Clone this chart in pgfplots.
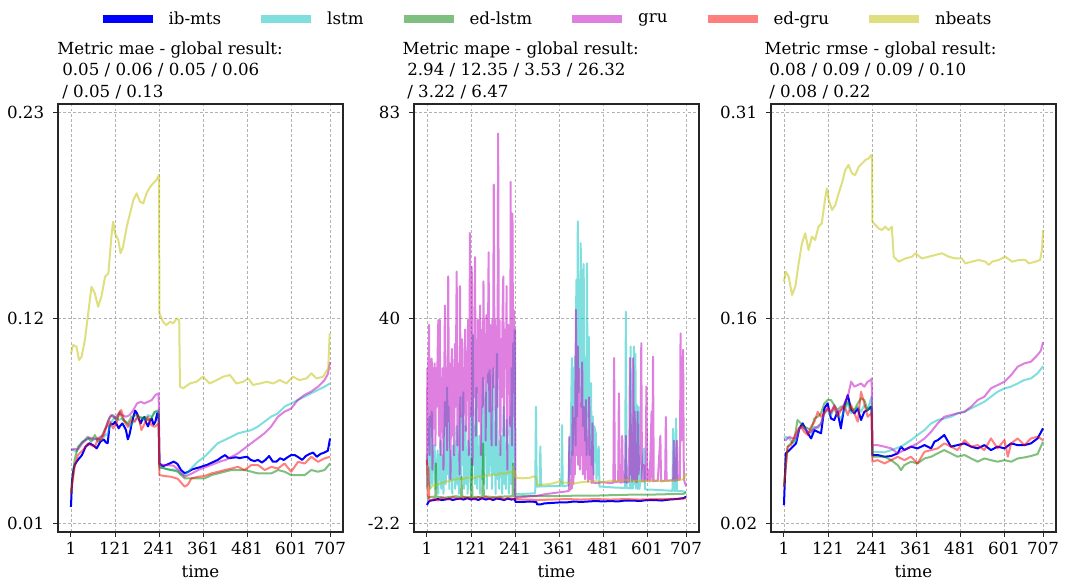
\documentclass[border=0pt]{standalone}
\usepackage{fontspec}
\setmainfont{DejaVu Serif}
\usepackage{pgfplots}
\pgfplotsset{compat=1.18}

\definecolor{mc}{rgb}{0,0.75,0.75}
\definecolor{mg}{rgb}{0,0.5,0}
\definecolor{mm}{rgb}{0.75,0,0.75}
\definecolor{mr}{rgb}{1,0,0}
\definecolor{my}{rgb}{0.75,0.75,0}
\newcommand\fnt{\fontsize{12.5pt}{15pt}\selectfont}

\pgfplotsset{
  panel/.style={
    scale only axis, width=213.75pt, height=321pt,
    xmin=-34.3, xmax=742.3,
    xtick={1,121,241,361,481,601,707},
    xticklabels={1,121,241,361,481,601,707},
    xlabel={time},
    xlabel style={at={(axis description cs:0.5,0)}, anchor=base, yshift=-33.75pt, inner sep=0pt},
    grid=major,
    major grid style={black!30, line width=0.5pt, dash pattern=on 2.2pt off 1.6pt},
    axis line style={black!85, line width=0.9pt},
    tick align=outside, tick pos=left,
    major tick length=3.6pt,
    tick style={black!85, line width=0.7pt},
    xticklabel style={anchor=base, inner sep=0pt, yshift=-12.9pt},
    yticklabel style={anchor=east, inner sep=0pt, xshift=-6.6pt},
    tick label style={font=\fnt},
    label style={font=\fnt},
    every axis plot/.append style={line width=1.5pt, line join=round, mark=none},
  },
  sib/.style={color=blue},
  sls/.style={color=mc, draw opacity=0.5},
  sel/.style={color=mg, draw opacity=0.5},
  sgr/.style={color=mm, draw opacity=0.5},
  seg/.style={color=mr, draw opacity=0.5},
  snb/.style={color=my, draw opacity=0.5},
}

\begin{document}
\begin{tikzpicture}[font=\fnt]
\useasboundingbox (0,0) rectangle (804pt,-435.75pt);

% ---------- mae ----------
\begin{axis}[panel, at={(43.5pt,-399pt)}, anchor=south west,
  ymin=0.00556, ymax=0.23444,
  ytick={0.01,0.12,0.23}, yticklabels={0.01,0.12,0.23},
  legend style={at={(1.7088,1.1986)}, anchor=center, draw=none, fill=none,
    font=\fnt, legend columns=6, inner sep=0pt, outer sep=0pt,
    nodes={inner sep=0pt},
    /tikz/every odd column/.append style={column sep=9pt},
    /tikz/every even column/.append style={column sep=27pt}},
  legend image code/.code={\draw[#1, line width=6pt] (0pt,0pt) -- (37.5pt,0pt);},
]
\addplot[sib] coordinates {(1,0.019)(4,0.033)(8,0.039)(11,0.0414)(16,0.043)(21,0.0444)(26,0.0455)(31,0.0467)(36,0.049)(41,0.0512)(46,0.052)(51,0.053)(56,0.0525)(61,0.052)(66,0.0512)(71,0.0503)(76,0.052)(81,0.0538)(86,0.0545)(91,0.055)(96,0.0535)(101,0.053)(106,0.062)(111,0.0636)(116,0.063)(121,0.0645)(126,0.063)(131,0.061)(136,0.0625)(141,0.0636)(146,0.062)(151,0.060)(156,0.0551)(161,0.058)(166,0.063)(171,0.067)(176,0.0705)(181,0.069)(186,0.066)(191,0.0636)(196,0.066)(201,0.067)(206,0.064)(211,0.062)(216,0.065)(221,0.0663)(226,0.063)(231,0.0645)(236,0.069)(240,0.068)(242,0.0423)(251,0.0408)(261,0.0414)(271,0.0423)(281,0.0432)(291,0.042)(301,0.0387)(311,0.037)(321,0.0378)(331,0.039)(341,0.0396)(351,0.0401)(361,0.0408)(371,0.0414)(381,0.0423)(391,0.0432)(401,0.0441)(411,0.0455)(421,0.0467)(431,0.045)(441,0.0453)(451,0.0455)(461,0.0451)(471,0.0455)(481,0.0458)(491,0.0441)(501,0.0435)(511,0.0441)(521,0.0427)(531,0.0441)(541,0.0462)(551,0.0432)(561,0.0432)(571,0.045)(581,0.0441)(591,0.0455)(601,0.0467)(611,0.0467)(621,0.0455)(631,0.0441)(641,0.0462)(651,0.0473)(661,0.048)(671,0.0458)(681,0.0473)(691,0.048)(701,0.049)(707,0.0556)};
\addlegendentry{ib-mts}
\addplot[sls] coordinates {(1,0.0494)(6,0.0496)(11,0.049)(16,0.0485)(21,0.0503)(31,0.0538)(41,0.0547)(51,0.0556)(61,0.0547)(71,0.0556)(81,0.0547)(91,0.0565)(101,0.0583)(111,0.0645)(121,0.0672)(131,0.0654)(141,0.0663)(151,0.0645)(161,0.0618)(171,0.0645)(181,0.0663)(191,0.0672)(201,0.0654)(211,0.0681)(221,0.0672)(231,0.0699)(240,0.0708)(242,0.0396)(251,0.040)(261,0.0392)(271,0.0388)(281,0.039)(291,0.0385)(301,0.0365)(311,0.036)(321,0.0378)(331,0.0400)(347,0.0432)(365,0.0458)(383,0.0494)(401,0.053)(419,0.0547)(438,0.0565)(456,0.0583)(474,0.0592)(492,0.060)(510,0.0619)(528,0.0645)(546,0.0672)(565,0.069)(583,0.0726)(601,0.0743)(619,0.0761)(637,0.0779)(655,0.0797)(674,0.0815)(692,0.0833)(707,0.085)};
\addlegendentry{lstm}
\addplot[sel] coordinates {(1,0.0262)(11,0.044)(20,0.0511)(34,0.0538)(47,0.0565)(56,0.0538)(66,0.0574)(75,0.0538)(84,0.0565)(93,0.0601)(107,0.0672)(116,0.0681)(125,0.0654)(134,0.0699)(143,0.0654)(156,0.0636)(166,0.0672)(179,0.0681)(193,0.0663)(202,0.0672)(211,0.0654)(220,0.0663)(229,0.0699)(240,0.0699)(242,0.0404)(256,0.0395)(274,0.0387)(292,0.0378)(311,0.0342)(329,0.0342)(347,0.0342)(365,0.0342)(384,0.036)(402,0.0369)(420,0.0378)(438,0.0387)(456,0.0387)(474,0.0387)(493,0.0378)(511,0.0369)(529,0.0369)(547,0.0369)(565,0.0387)(583,0.0378)(601,0.036)(620,0.036)(638,0.036)(656,0.0387)(674,0.0378)(692,0.0387)(707,0.0422)};
\addlegendentry{ed-lstm}
\addplot[sgr] coordinates {(1,0.0494)(6,0.0497)(11,0.0501)(16,0.0497)(21,0.0499)(31,0.0529)(41,0.0547)(51,0.056)(61,0.0556)(71,0.0552)(81,0.0565)(91,0.0574)(101,0.0645)(111,0.0681)(121,0.0663)(131,0.069)(141,0.0681)(151,0.0672)(161,0.0681)(171,0.0708)(181,0.0743)(191,0.0752)(201,0.0743)(211,0.0752)(221,0.0761)(231,0.0788)(240,0.0797)(242,0.0414)(261,0.0414)(281,0.041)(301,0.0375)(311,0.0351)(331,0.0369)(351,0.039)(371,0.0405)(391,0.042)(411,0.0435)(421,0.044)(441,0.046)(456,0.0476)(474,0.0503)(492,0.053)(510,0.0556)(528,0.0583)(546,0.0618)(565,0.0672)(583,0.0699)(601,0.0716)(619,0.0761)(637,0.0788)(655,0.0806)(674,0.0832)(692,0.0868)(701,0.090)(707,0.0965)};
\addlegendentry{gru}
\addplot[seg] coordinates {(1,0.0262)(11,0.0404)(20,0.0467)(34,0.0494)(47,0.0529)(56,0.052)(66,0.0511)(75,0.0556)(84,0.0547)(93,0.0601)(107,0.0645)(116,0.0609)(125,0.0636)(134,0.0699)(138,0.0708)(147,0.0645)(156,0.0618)(166,0.0654)(175,0.0645)(184,0.0681)(193,0.0601)(202,0.0636)(211,0.0672)(220,0.0627)(229,0.0618)(240,0.0636)(242,0.036)(256,0.0355)(274,0.0351)(292,0.034)(311,0.0298)(320,0.031)(329,0.0342)(347,0.0351)(365,0.0355)(384,0.0369)(402,0.0378)(420,0.0387)(438,0.0395)(456,0.0404)(474,0.0387)(492,0.0413)(511,0.0413)(529,0.0387)(547,0.0404)(565,0.0395)(583,0.0422)(601,0.0378)(620,0.0431)(638,0.0422)(656,0.0458)(674,0.0431)(692,0.0449)(707,0.0458)};
\addlegendentry{ed-gru}
\addplot[snb] coordinates {(1,0.101)(7,0.1055)(16,0.1047)(23,0.0975)(30,0.0993)(39,0.1082)(48,0.1225)(57,0.1367)(66,0.1332)(75,0.126)(84,0.1314)(94,0.1421)(103,0.1439)(112,0.1653)(116,0.1715)(121,0.1653)(130,0.1617)(136,0.1546)(143,0.1581)(153,0.1688)(162,0.176)(171,0.1831)(180,0.1867)(189,0.1822)(198,0.1813)(207,0.1867)(216,0.1899)(225,0.192)(234,0.1938)(241,0.1965)(242,0.1225)(252,0.118)(261,0.1162)(271,0.118)(280,0.1171)(289,0.1198)(296,0.1189)(298,0.0833)(307,0.0824)(325,0.085)(343,0.0859)(361,0.0886)(379,0.085)(398,0.0868)(416,0.0886)(434,0.0895)(452,0.085)(470,0.0859)(484,0.0877)(497,0.0842)(516,0.085)(534,0.0859)(552,0.085)(570,0.0868)(588,0.085)(606,0.0886)(624,0.0868)(643,0.0877)(656,0.0904)(670,0.0877)(688,0.0886)(702,0.0931)(706,0.1118)};
\addlegendentry{nbeats}
\end{axis}

% ---------- mape ----------
\begin{axis}[panel, at={(310.5pt,-399pt)}, anchor=south west,
  ymin=-3.92, ymax=84.72,
  ytick={-2.2,40.4,83}, yticklabels={-2.2,40,83},
]
\addplot[sib] coordinates {(1,1.7)(6,2.4)(11,2.6)(21,2.7)(31,2.9)(41,2.7)(51,2.8)(61,3.0)(71,2.7)(81,2.9)(91,3.0)(101,2.8)(111,3.1)(121,2.8)(131,3.0)(141,2.7)(151,3.1)(161,2.8)(171,3.0)(181,2.7)(191,3.0)(201,2.9)(211,2.7)(221,3.0)(231,2.8)(241,2.9)(242,2.3)(261,2.3)(281,2.4)(299,2.3)(301,1.8)(311,1.8)(321,2.0)(341,2.1)(361,2.2)(381,2.2)(401,2.4)(421,2.3)(441,2.4)(461,2.5)(481,2.4)(501,2.5)(521,2.4)(541,2.6)(561,2.6)(581,2.5)(601,2.7)(621,2.7)(641,2.6)(661,2.8)(681,2.9)(701,3.1)(707,3.4)};
\addplot[sls] coordinates {(1,5)(2,12)(4,6)(6,14)(8,20)(10,5)(12,13)(14,21)(16,6)(18,12)(20,9)(22,14)(24,5)(26,11)(28,8)(30,13)(32,4)(34,12)(36,7)(38,15)(40,5)(42,12)(44,9)(46,4)(48,14)(50,23)(52,6)(54,12)(56,26)(58,8)(60,22)(62,5)(64,13)(66,8)(68,11)(70,4)(72,14)(74,7)(76,12)(78,5)(80,13)(82,18)(84,6)(86,12)(88,4)(90,14)(92,24)(94,7)(96,20)(98,10)(100,25)(102,5)(104,14)(106,18)(108,6)(110,13)(112,4)(114,15)(116,8)(118,12)(120,5)(122,22)(124,7)(126,36.9)(128,10)(130,18)(132,6)(134,14)(136,26)(138,5)(140,12)(142,8)(144,16)(146,4)(148,11)(150,7)(152,21)(154,28)(156,6)(158,20)(160,12)(162,25)(164,5)(166,14)(168,28.9)(170,8)(172,29.6)(174,10)(176,18)(178,5)(180,22)(182,30)(184,8)(186,18.6)(188,4)(190,24)(192,33)(194,7)(196,15)(198,5)(200,12)(202,8)(204,16)(206,4)(208,14)(210,22)(212,6)(214,12)(216,5)(218,19.3)(220,8)(222,14)(224,4)(226,12)(228,20)(230,6)(232,30)(234,10)(236,35.2)(238,14)(240,38)(241,5)(242,3.9)(270,4.0)(296,4.1)(298,22)(300,5.5)(308,5.5)(310,13.8)(312,5.5)(340,5.6)(366,5.6)(368,9)(369,18.2)(371,5.6)(386,5.7)(388,10)(389,15.5)(391,8)(394,22)(396,32.1)(398,12)(400,30)(402,18)(404,32.4)(406,14)(408,48.3)(410,20)(412,60.4)(414,25)(416,48.3)(418,30)(420,55.9)(422,22)(424,50.4)(426,18)(428,51.6)(430,28)(432,15)(434,32)(436,12)(437,51.7)(439,20)(442,36.5)(444,12)(446,24.8)(448,26.9)(450,10)(453,20)(455,8)(457,18)(461,16.5)(463,7)(469,13.8)(471,5.5)(490,5.4)(510,5.3)(541,5.2)(543,41.7)(545,5.2)(554,5.1)(556,34.5)(558,5.1)(563,5.1)(565,34.5)(567,6)(569,33)(571,5.1)(573,22.4)(575,5)(578,22)(580,5)(593,13.4)(595,4.9)(630,4.8)(650,4.7)(670,4.6)(672,17.5)(674,4.6)(678,4.6)(680,19.6)(682,4.6)(700,4.5)(707,4.3)};
\addplot[sel] coordinates {(1,3.0)(6,3.3)(20,3.4)(24,3.3)(25,10.3)(27,3.4)(50,3.2)(80,3.5)(94,3.3)(95,7.5)(97,3.4)(121,3.3)(123,11.3)(125,3.3)(152,3.4)(154,14.4)(156,3.5)(180,3.3)(200,3.4)(234,3.5)(236,10.3)(238,3.4)(241,3.4)(261,3.5)(301,3.5)(351,3.5)(401,3.6)(451,3.6)(501,3.7)(551,3.8)(601,3.8)(651,3.9)(701,4.0)(707,4.3)};
\addplot[sgr] coordinates {(1,10)(2,30)(3,14)(5,31)(7,39)(8,12)(10,31)(12,18)(14,32)(16,9)(18,30)(20,20)(22,31)(24,14)(26,30)(28,22)(30,33)(32,40)(34,16)(36,40)(38,12)(40,28)(42,21)(44,30)(46,9)(48,27)(50,43)(52,18)(54,30)(56,13)(58,26)(59,49)(61,19)(63,31)(65,7)(67,27)(69,34)(71,16)(73,30)(75,12)(77,35)(79,22)(82,50)(84,14)(86,31)(88,24)(90,8)(91,47)(93,20)(95,29)(97,36)(99,13)(101,30)(103,22)(105,38)(107,17)(109,33)(111,25)(113,40)(115,12)(117,34)(118,58)(120,20)(122,31)(123,51)(125,10)(127,36)(129,24)(130,39)(132,53)(134,16)(136,34)(138,27)(140,40)(142,19)(144,35)(146,43)(148,12)(150,30)(152,38)(153,22)(155,48)(157,28)(159,37)(161,15)(163,41)(165,27)(167,33)(169,54)(171,21)(173,39)(175,34)(177,14)(179,40)(181,26)(183,68)(185,31)(187,40)(189,14)(191,36)(193,22)(195,78.6)(197,28)(199,40)(201,12)(203,36)(205,24)(207,41)(209,49)(211,16)(213,38)(215,30)(217,34)(218,47)(220,9)(222,39)(224,26)(226,36)(228,18)(229,68.6)(231,30)(233,14)(234,62)(236,25)(238,42)(240,20)(241,38)(242,3.2)(262,3.3)(282,3.5)(302,3.6)(322,3.9)(342,4.1)(362,4.3)(382,4.5)(388,4.6)(389,15.8)(390,4.8)(396,5.2)(398,22)(400,6)(402,14)(404,8)(406,30)(407,42.1)(408,12)(410,26)(412,34.5)(413,10)(415,20)(416,29.8)(418,9)(420,18)(422,12)(424,31.2)(426,8)(428,22)(430,19.9)(432,7)(434,23.4)(436,9)(438,15)(440,6.5)(443,24)(445,7)(448,13)(450,6.2)(452,18.6)(454,6.3)(460,6.2)(470,6.3)(480,6.4)(500,6.2)(509,6.3)(511,32.1)(513,6.4)(522,6.5)(524,24.8)(526,6.4)(531,6.3)(533,16)(535,6.4)(541,6.5)(543,16)(545,6.3)(551,6.5)(553,18)(554,32.1)(556,8)(558,14)(560,6.5)(562,20)(563,32.1)(565,7)(567,21)(569,6.5)(571,14)(573,6.4)(575,21)(577,8)(583,12)(585,35.2)(587,6.5)(591,10)(593,6.5)(597,8)(599,26.2)(601,6.6)(606,9)(608,6.5)(613,21)(615,6.6)(617,32.4)(619,6.6)(630,6.7)(637,16)(639,6.6)(650,6.7)(652,19.9)(654,6.7)(672,6.8)(674,15)(676,6.7)(680,6.8)(682,15)(684,6.8)(690,7)(691,20)(692,37.2)(694,15)(697,26)(699,33.8)(701,7)(705,6)(707,5.5)};
\addplot[seg] coordinates {(1,11.0)(3,3.5)(5,9.5)(7,2.8)(11,2.5)(21,3.0)(31,2.6)(41,3.2)(51,3.0)(61,2.8)(71,3.3)(81,3.1)(91,2.9)(101,3.3)(111,3.0)(121,3.2)(131,2.8)(141,3.3)(151,3.0)(161,3.4)(171,2.9)(181,3.2)(191,3.0)(201,3.3)(211,2.9)(221,3.1)(231,3.0)(241,2.9)(261,2.8)(281,2.8)(301,2.7)(341,2.8)(381,2.9)(421,2.8)(461,2.9)(501,2.8)(541,2.9)(581,2.8)(621,2.9)(661,2.9)(701,3.0)(707,3.1)};
\addplot[snb] coordinates {(1,4.8)(11,5.3)(21,5.8)(31,5.9)(41,6.2)(51,6.5)(61,6.6)(71,6.9)(81,7.0)(91,7.2)(101,7.1)(111,7.3)(121,7.4)(131,7.2)(141,7.6)(151,7.5)(161,7.8)(171,7.7)(181,8.0)(191,7.9)(201,8.3)(211,8.1)(221,8.4)(231,8.5)(241,8.7)(242,7.3)(261,7.2)(281,7.3)(291,7.6)(299,7.4)(301,5.8)(321,5.9)(341,6.1)(361,6.5)(371,6.3)(381,6.3)(401,6.1)(421,6.4)(441,6.5)(461,6.6)(481,6.4)(501,6.7)(521,6.6)(541,6.9)(561,6.7)(581,6.6)(601,6.6)(621,6.8)(641,6.6)(661,6.7)(681,6.8)(701,7.0)(707,8.2)};
\end{axis}

% ---------- rmse ----------
\begin{axis}[panel, at={(578.25pt,-399pt)}, anchor=south west,
  ymin=0.01415, ymax=0.31585,
  ytick={0.02,0.165,0.31}, yticklabels={0.02,0.16,0.31},
]
\addplot[sib] coordinates {(1,0.0331)(6,0.0696)(16,0.0719)(25,0.0743)(34,0.0766)(43,0.0872)(52,0.0907)(66,0.0837)(75,0.0801)(84,0.086)(93,0.0848)(102,0.0837)(111,0.1013)(120,0.1048)(129,0.0942)(138,0.0931)(147,0.0989)(156,0.0872)(166,0.1036)(175,0.1107)(184,0.1001)(193,0.0978)(202,0.1013)(211,0.0931)(220,0.0989)(229,0.1001)(238,0.1025)(240,0.1001)(242,0.0684)(256,0.0684)(275,0.0672)(293,0.0677)(311,0.0696)(320,0.0743)(329,0.0719)(347,0.0743)(365,0.0731)(384,0.0754)(402,0.0731)(411,0.0778)(420,0.0789)(438,0.0825)(456,0.0743)(474,0.0754)(493,0.0766)(511,0.0743)(529,0.0731)(547,0.0754)(565,0.0719)(583,0.0743)(602,0.0731)(620,0.0766)(638,0.0754)(656,0.0754)(674,0.0766)(692,0.0801)(707,0.0872)};
\addplot[sls] coordinates {(1,0.0801)(6,0.0813)(16,0.0801)(25,0.0766)(34,0.0789)(43,0.0872)(52,0.0884)(66,0.0848)(75,0.0837)(84,0.0884)(93,0.0872)(102,0.0907)(111,0.0978)(120,0.1001)(129,0.0966)(138,0.1013)(147,0.0966)(156,0.0942)(166,0.1001)(175,0.1048)(184,0.0978)(193,0.1001)(202,0.1025)(211,0.0989)(220,0.1036)(229,0.1001)(238,0.1083)(240,0.1095)(242,0.0707)(256,0.0707)(275,0.0703)(293,0.0719)(320,0.0743)(347,0.0789)(365,0.0825)(384,0.086)(402,0.0907)(420,0.0931)(438,0.0942)(456,0.0954)(474,0.0978)(493,0.0989)(511,0.1013)(529,0.1036)(547,0.106)(565,0.1095)(583,0.113)(602,0.1154)(620,0.1166)(638,0.1189)(656,0.1213)(674,0.1224)(692,0.1260)(707,0.131)};
\addplot[sel] coordinates {(1,0.0461)(11,0.0743)(20,0.0766)(29,0.0789)(38,0.0931)(47,0.0907)(56,0.0884)(66,0.0872)(75,0.086)(84,0.0942)(93,0.0954)(102,0.0978)(111,0.1048)(120,0.1072)(129,0.1072)(138,0.1036)(147,0.1001)(156,0.1025)(166,0.1025)(175,0.106)(184,0.1013)(193,0.1001)(202,0.1048)(211,0.1083)(220,0.1072)(229,0.1001)(240,0.1025)(242,0.0672)(256,0.0672)(275,0.0672)(293,0.0648)(311,0.0613)(320,0.0578)(329,0.0613)(347,0.0637)(365,0.0625)(384,0.066)(402,0.0672)(420,0.0696)(438,0.0719)(456,0.0696)(474,0.0672)(493,0.0684)(511,0.066)(529,0.0637)(547,0.066)(565,0.0648)(583,0.0637)(602,0.0648)(620,0.0637)(638,0.066)(656,0.0667)(674,0.0677)(692,0.0691)(707,0.0778)};
\addplot[sgr] coordinates {(1,0.0789)(6,0.0789)(16,0.0813)(25,0.0801)(34,0.0801)(43,0.0872)(52,0.0884)(66,0.0848)(75,0.0848)(84,0.0872)(93,0.0884)(102,0.0907)(111,0.0989)(120,0.1013)(129,0.0978)(138,0.1036)(147,0.0989)(156,0.1001)(166,0.1048)(175,0.1095)(184,0.1201)(193,0.1166)(202,0.1177)(211,0.1189)(220,0.1166)(229,0.1201)(238,0.1213)(240,0.1224)(242,0.0754)(256,0.0754)(275,0.0743)(293,0.0731)(311,0.0696)(329,0.0719)(347,0.0743)(365,0.0766)(384,0.0801)(402,0.0848)(420,0.0907)(438,0.0954)(456,0.0966)(474,0.0978)(493,0.0989)(511,0.1025)(529,0.1072)(547,0.1095)(565,0.1154)(583,0.1177)(602,0.1201)(620,0.1248)(638,0.1307)(656,0.133)(674,0.1342)(692,0.1389)(701,0.142)(707,0.148)};
\addplot[seg] coordinates {(1,0.0461)(11,0.0743)(20,0.0754)(29,0.0813)(38,0.086)(47,0.0884)(56,0.0848)(66,0.0825)(75,0.0884)(84,0.0919)(93,0.0989)(102,0.0954)(111,0.0978)(120,0.1013)(129,0.0989)(138,0.1025)(147,0.0954)(156,0.1001)(166,0.1025)(175,0.0966)(184,0.1036)(193,0.0978)(202,0.0919)(211,0.113)(220,0.1048)(229,0.0954)(240,0.0978)(242,0.0637)(256,0.0648)(275,0.0625)(293,0.0648)(311,0.0672)(329,0.0648)(347,0.0672)(365,0.0625)(384,0.0707)(402,0.0719)(420,0.0731)(438,0.0766)(456,0.0743)(474,0.0719)(493,0.0789)(511,0.0743)(529,0.0754)(547,0.0719)(565,0.0801)(583,0.0731)(602,0.0789)(611,0.0672)(620,0.0766)(638,0.0801)(656,0.0754)(674,0.0801)(692,0.0813)(707,0.0789)};
\addplot[snb] coordinates {(1,0.1906)(6,0.1977)(14,0.194)(23,0.1812)(32,0.1871)(41,0.2035)(50,0.2176)(59,0.2247)(68,0.2129)(77,0.2223)(86,0.22)(95,0.2294)(104,0.2317)(114,0.2505)(118,0.2564)(123,0.2482)(132,0.2411)(141,0.2447)(150,0.2529)(159,0.26)(168,0.2693)(177,0.2729)(186,0.267)(195,0.2658)(205,0.2717)(214,0.274)(223,0.2764)(232,0.2776)(239,0.2799)(241,0.2776)(242,0.2329)(250,0.2306)(259,0.2282)(268,0.227)(277,0.2294)(286,0.227)(295,0.2294)(300,0.2082)(314,0.2047)(332,0.207)(350,0.2082)(359,0.2106)(377,0.207)(395,0.2082)(413,0.2094)(432,0.2106)(450,0.2082)(468,0.207)(486,0.207)(495,0.2035)(513,0.2047)(532,0.2059)(550,0.2047)(559,0.2024)(568,0.2047)(586,0.2059)(604,0.2082)(623,0.2047)(641,0.2059)(659,0.2059)(668,0.2035)(686,0.2047)(699,0.2059)(704,0.2129)(707,0.227)};
\end{axis}

% titles
\node[anchor=base west, inner sep=0pt] at (42.75pt,-40.7pt) {Metric mae - global result:};
\node[anchor=base west, inner sep=0pt] at (46.5pt,-57pt) {0.05 / 0.06 / 0.05 / 0.06};
\node[anchor=base west, inner sep=0pt] at (46.5pt,-73.1pt) {/ 0.05 / 0.13};
\node[anchor=base west, inner sep=0pt] at (301.7pt,-40.7pt) {Metric mape - global result:};
\node[anchor=base west, inner sep=0pt] at (305.25pt,-57pt) {2.94 / 12.35 / 3.53 / 26.32};
\node[anchor=base west, inner sep=0pt] at (305.25pt,-73.1pt) {/ 3.22 / 6.47};
\node[anchor=base west, inner sep=0pt] at (573.2pt,-40.7pt) {Metric rmse - global result:};
\node[anchor=base west, inner sep=0pt] at (576.75pt,-57pt) {0.08 / 0.09 / 0.09 / 0.10};
\node[anchor=base west, inner sep=0pt] at (576.75pt,-73.1pt) {/ 0.08 / 0.22};
\end{tikzpicture}
\end{document}
